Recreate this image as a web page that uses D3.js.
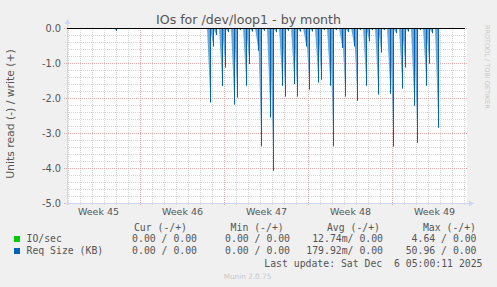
<!DOCTYPE html>
<html>
<head>
<meta charset="utf-8">
<script src="https://cdn.jsdelivr.net/npm/d3@7"></script>
<style>
body { margin: 0; background: #f0f0f0; }
svg { display: block; font-family: "DejaVu Sans", sans-serif; }
.mono { font-family: "DejaVu Sans Mono", monospace; }
</style>
</head>
<body>
<div id="chart"></div>
<script>
var title = "IOs for /dev/loop1 - by month";
var yLabel = "Units read (-) / write (+)";
var yTicks = [0, -1, -2, -3, -4, -5];
var weekLabels = ["Week 45", "Week 46", "Week 47", "Week 48", "Week 49"];
var weekStarts = ["2025-11-02", "2025-11-09", "2025-11-16", "2025-11-23", "2025-11-30"];
var timeRange = ["2025-11-02T22:00", "2025-12-06T06:00"];

// Req Size (KB), read side (negative)
var reqTimes = [
  "2025-11-07T00:00",
  "2025-11-14T20:00", "2025-11-15T02:00", "2025-11-15T08:00",
  "2025-11-15T20:00", "2025-11-16T02:00", "2025-11-16T08:00",
  "2025-11-16T20:00", "2025-11-17T02:00", "2025-11-17T08:00",
  "2025-11-17T20:00", "2025-11-18T02:00", "2025-11-18T08:00",
  "2025-11-18T20:00", "2025-11-19T02:00", "2025-11-19T08:00",
  "2025-11-19T20:00", "2025-11-20T02:00", "2025-11-20T08:00",
  "2025-11-20T20:00", "2025-11-21T02:00", "2025-11-21T08:00",
  "2025-11-21T20:00", "2025-11-22T02:00", "2025-11-22T08:00",
  "2025-11-22T20:00", "2025-11-23T02:00", "2025-11-23T08:00",
  "2025-11-23T20:00", "2025-11-24T02:00", "2025-11-24T08:00",
  "2025-11-24T20:00", "2025-11-25T02:00", "2025-11-25T08:00",
  "2025-11-25T20:00", "2025-11-26T02:00", "2025-11-26T08:00",
  "2025-11-26T20:00", "2025-11-27T02:00", "2025-11-27T08:00",
  "2025-11-27T20:00", "2025-11-28T02:00", "2025-11-28T08:00",
  "2025-11-28T20:00", "2025-11-29T02:00", "2025-11-29T08:00",
  "2025-11-29T20:00", "2025-11-30T02:00", "2025-11-30T08:00",
  "2025-11-30T20:00", "2025-12-01T02:00", "2025-12-01T08:00",
  "2025-12-01T20:00", "2025-12-02T02:00", "2025-12-02T08:00",
  "2025-12-02T20:00", "2025-12-03T02:00", "2025-12-03T08:00",
  "2025-12-03T20:00"
];
var reqValues = [
  -0.08,
  -2.13, -0.53, -0.20,
  -1.66, -1.13, -0.12,
  -2.19, -1.99, -0.06,
  -1.65, -1.03, -0.10,
  -0.65, -3.38, -0.08,
  -2.56, -4.08, -0.12,
  -1.65, -1.96, -0.08,
  -1.60, -1.96, -0.10,
  -0.53, -1.76, -0.10,
  -1.56, -1.48, -0.06,
  -1.65, -3.38, -0.06,
  -0.57, -1.96, -0.12,
  -0.53, -2.08, -0.06,
  -1.65, -0.38, -0.06,
  -1.90, -0.70, -0.06,
  -1.88, -3.39, -0.15,
  -1.73, -1.13, -0.10,
  -2.22, -3.28, -0.06,
  -1.65, -1.02, -0.15,
  -2.85
];

// IO/sec, read side (negative)
var ioTimes = [
  "2025-11-14T20:00", "2025-11-15T02:00", "2025-11-15T20:00", "2025-11-16T02:00",
  "2025-11-16T20:00", "2025-11-17T02:00", "2025-11-17T20:00", "2025-11-18T02:00",
  "2025-11-18T20:00", "2025-11-19T02:00", "2025-11-19T20:00", "2025-11-20T02:00",
  "2025-11-20T20:00", "2025-11-21T02:00", "2025-11-21T20:00", "2025-11-22T02:00",
  "2025-11-22T20:00", "2025-11-23T02:00", "2025-11-23T20:00", "2025-11-24T02:00",
  "2025-11-24T20:00", "2025-11-25T02:00", "2025-11-25T20:00", "2025-11-26T02:00",
  "2025-11-26T20:00", "2025-11-27T02:00", "2025-11-27T20:00", "2025-11-28T02:00",
  "2025-11-28T20:00", "2025-11-29T02:00", "2025-11-29T20:00", "2025-11-30T02:00",
  "2025-11-30T20:00", "2025-12-01T02:00", "2025-12-01T20:00", "2025-12-02T02:00",
  "2025-12-02T20:00", "2025-12-03T02:00", "2025-12-03T20:00"
];
var ioValues = [
  -0.17, -0.12, -0.12, -0.10,
  -0.18, -0.15, -0.15, -0.12,
  -0.15, -0.20, -0.20, -0.22,
  -0.15, -0.18, -0.15, -0.18,
  -0.12, -0.18, -0.15, -0.15,
  -0.15, -0.22, -0.12, -0.18,
  -0.12, -0.18, -0.15, -0.10,
  -0.18, -0.12, -0.18, -0.22,
  -0.15, -0.12, -0.18, -0.22,
  -0.18, -0.12, -0.20
];

var legendNames = ["IO/sec", "Req Size (KB)"];
var legendColors = ["#00cc00", "#0066b3"];
var legendHeaders = ["Cur (-/+)", "Min (-/+)", "Avg (-/+)", "Max (-/+)"];
var ioStats = ["0.00 / 0.00", "0.00 / 0.00", "12.74m/ 0.00", "4.64 / 0.00"];
var reqStats = ["0.00 / 0.00", "0.00 / 0.00", "179.92m/ 0.00", "50.96 / 0.00"];
var lastUpdate = "Last update: Sat Dec  6 05:00:11 2025";
var footer = "Munin 2.0.75";
var watermark = "RRDTOOL / TOBI OETIKER";

var W = 497, H = 287;
var plot = {left: 67, right: 467, top: 28, bottom: 203};
var parse = d3.utcParse("%Y-%m-%dT%H:%M");
var parseDay = d3.utcParse("%Y-%m-%d");
var step = 2 * 3600 * 1000;   // one rrd row (1px) on the month graph

var x = d3.scaleUtc()
    .domain(timeRange.map(parse))
    .range([plot.left, plot.right]);
var y = d3.scaleLinear()
    .domain([-5, 0])
    .range([plot.bottom, plot.top]);

var svg = d3.select("#chart").append("svg")
    .attr("width", W)
    .attr("height", H);

svg.append("rect").attr("width", W).attr("height", H).attr("fill", "#f0f0f0");
svg.append("rect")
   .attr("x", plot.left).attr("y", plot.top)
   .attr("width", plot.right - plot.left).attr("height", plot.bottom - plot.top)
   .attr("fill", "#ffffff");

// minor grid
var minorY = d3.range(0, 26).map(function(i) { return -i * 0.2; });
svg.append("g").selectAll("line")
   .data(minorY.filter(function(v, i) { return i % 5 != 0; }))
   .enter().append("line")
   .attr("x1", plot.left - 2).attr("x2", plot.right)
   .attr("y1", function(d) { return Math.round(y(d)) + 0.5; })
   .attr("y2", function(d) { return Math.round(y(d)) + 0.5; })
   .attr("stroke", "#d6d6d6").attr("stroke-dasharray", "1,1");

var days = d3.utcDay.range(x.domain()[0], x.domain()[1]);
svg.append("g").selectAll("line")
   .data(days.filter(function(d) { return d.getUTCDay() != 0; }))
   .enter().append("line")
   .attr("x1", function(d) { return Math.round(x(d)) + 0.5; })
   .attr("x2", function(d) { return Math.round(x(d)) + 0.5; })
   .attr("y1", plot.top).attr("y2", plot.bottom + 2)
   .attr("stroke", "#d6d6d6").attr("stroke-dasharray", "1,1");

// major grid
svg.append("g").selectAll("line")
   .data(yTicks)
   .enter().append("line")
   .attr("x1", plot.left - 3).attr("x2", plot.right)
   .attr("y1", function(d) { return Math.round(y(d)) + 0.5; })
   .attr("y2", function(d) { return Math.round(y(d)) + 0.5; })
   .attr("stroke", "#e4a8a8").attr("stroke-dasharray", "1,1");

var weekLines = weekStarts.map(parseDay).filter(function(d) { return d > x.domain()[0]; });
svg.append("g").selectAll("line")
   .data(weekLines)
   .enter().append("line")
   .attr("x1", function(d) { return Math.round(x(d)) + 0.5; })
   .attr("x2", function(d) { return Math.round(x(d)) + 0.5; })
   .attr("y1", plot.top).attr("y2", plot.bottom + 3)
   .attr("stroke", "#e4a8a8").attr("stroke-dasharray", "1,1");

// axes lines + arrows
var axisColor = "#cfd6f8";
svg.append("line")
   .attr("x1", plot.left - 2).attr("x2", plot.right + 2)
   .attr("y1", plot.bottom + 0.5).attr("y2", plot.bottom + 0.5)
   .attr("stroke", axisColor);
svg.append("line")
   .attr("x1", plot.left + 0.5).attr("x2", plot.left + 0.5)
   .attr("y1", plot.bottom + 2).attr("y2", plot.top - 4)
   .attr("stroke", axisColor);
svg.append("path")
   .attr("d", "M" + (plot.right + 2) + "," + (plot.bottom - 2.5) + "l5,3l-5,3z")
   .attr("fill", axisColor);
svg.append("path")
   .attr("d", "M" + (plot.left - 2.5) + "," + (plot.top - 4) + "l3,-5l3,5z")
   .attr("fill", axisColor);

// series: each value is a spike from the zero line, with a soft
// left flank (antialiased rise) and a sharp right edge like rrdtool draws
function drawSpikes(times, values, color, flankColor, flank) {
  var g = svg.append("g");
  var pts = times.map(function(t, i) { return {t: parse(t), v: values[i]}; });
  g.selectAll("path.flank")
   .data(pts)
   .enter().append("path")
   .attr("class", "flank")
   .attr("d", function(d) {
     return d3.line()([
       [x(new Date(+d.t - flank * step)), y(0)],
       [x(d.t) + 0.5, y(d.v)],
       [x(d.t) + 1, y(0)]
     ]) + "Z";
   })
   .attr("fill", flankColor);
  g.selectAll("line.edge")
   .data(pts)
   .enter().append("line")
   .attr("class", "edge")
   .attr("x1", function(d) { return Math.round(x(d.t)) + 0.5; })
   .attr("x2", function(d) { return Math.round(x(d.t)) + 0.5; })
   .attr("y1", y(0))
   .attr("y2", function(d) { return y(d.v); })
   .attr("stroke", color).attr("stroke-width", 1);
}
drawSpikes(ioTimes, ioValues, legendColors[0], "#5fd95f", 2.5);
drawSpikes(reqTimes, reqValues, legendColors[1], "#6ea4d6", 3);

// zero line
svg.append("line")
   .attr("x1", plot.left).attr("x2", plot.right - 2)
   .attr("y1", Math.round(y(0)) + 0.5).attr("y2", Math.round(y(0)) + 0.5)
   .attr("stroke", "#000000");

// y axis labels
var yAxis = d3.axisLeft(y)
    .tickValues(yTicks)
    .tickSize(0)
    .tickPadding(0)
    .tickFormat(function(d) { return d.toFixed(1); });
var gy = svg.append("g")
    .attr("transform", "translate(" + (plot.left - 6) + ",0)")
    .call(yAxis);
gy.select(".domain").remove();
gy.selectAll("text").attr("fill", "#555").style("font-size", "9.8px")
  .style("font-family", "DejaVu Sans");

// x axis labels
var weekMid = weekStarts.map(function(s) { return d3.utcHour.offset(parseDay(s), 84); });
var xAxis = d3.axisBottom(x)
    .tickValues(weekMid)
    .tickSize(0)
    .tickPadding(0)
    .tickFormat(function(d, i) { return weekLabels[i]; });
var gx = svg.append("g")
    .attr("transform", "translate(0," + (plot.bottom + 5) + ")")
    .call(xAxis);
gx.select(".domain").remove();
gx.selectAll("text").attr("fill", "#555").attr("dy", null).attr("y", 7)
  .style("font-size", "9.5px").style("font-family", "DejaVu Sans");

// titles
svg.append("text")
   .attr("x", 248.5).attr("y", 24)
   .attr("text-anchor", "middle")
   .attr("fill", "#555").style("font-size", "12.6px")
   .text(title);

svg.append("text")
   .attr("transform", "translate(14,114) rotate(-90)")
   .attr("text-anchor", "middle")
   .attr("fill", "#555").style("font-size", "10.8px")
   .text(yLabel);

svg.append("text")
   .attr("transform", "translate(485,25) rotate(90)")
   .attr("fill", "#c8c8c8").style("font-size", "6.5px")
   .text(watermark);

// legend
var legend = svg.append("g").attr("class", "mono").attr("fill", "#555").style("font-size", "9.8px");
var colEnds = [197, 290, 383, 476.5];
var headEnds = [187, 283.7, 380, 476];
legendHeaders.forEach(function(h, i) {
  legend.append("text").attr("x", headEnds[i]).attr("y", 231)
        .attr("text-anchor", "end").text(h);
});
[ioStats, reqStats].forEach(function(row, r) {
  var yy = 242 + r * 12;
  legend.append("rect").attr("x", 14).attr("y", yy - 6).attr("width", 6).attr("height", 6)
        .attr("fill", legendColors[r]);
  legend.append("text").attr("x", 26.5).attr("y", yy).text(legendNames[r]);
  row.forEach(function(v, i) {
    legend.append("text").attr("x", colEnds[i]).attr("y", yy)
          .attr("text-anchor", "end").style("white-space", "pre").text(v);
  });
});
legend.append("text").attr("x", 482.5).attr("y", 266.5)
      .attr("text-anchor", "end").style("white-space", "pre").text(lastUpdate);

svg.append("text")
   .attr("x", 247.5).attr("y", 279)
   .attr("text-anchor", "middle")
   .attr("fill", "#c8c8c8").style("font-size", "7.3px")
   .text(footer);
</script>
</body>
</html>
